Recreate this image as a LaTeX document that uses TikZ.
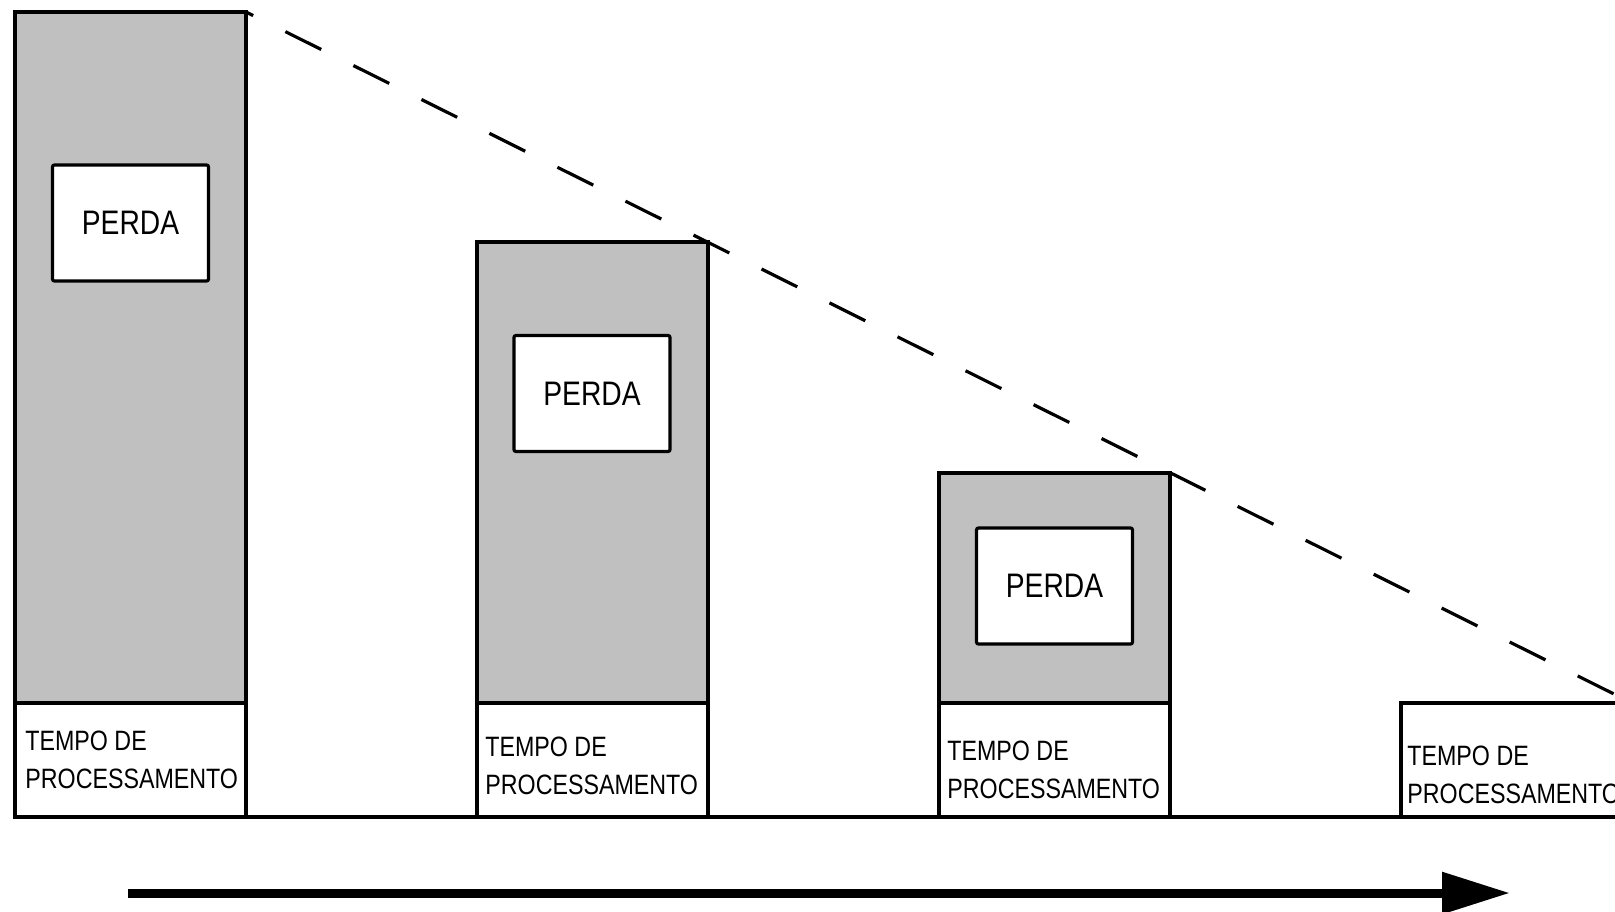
\documentclass[tikz,border=0pt]{standalone}
\usepackage{fontspec}
\setmainfont{Liberation Sans}
\newfontfamily\condfont[FakeStretch=0.83]{Liberation Sans}
\usetikzlibrary{arrows.meta}
\definecolor{bargray}{RGB}{192,192,192}
\begin{document}
\begin{tikzpicture}[x=0.5pt,y=-0.5pt,
  graybar/.style={draw, line width=1.6pt, fill=bargray, inner sep=0pt, outer sep=0pt, anchor=north west, minimum width=115.5pt},
  whitebar/.style={draw, line width=1.6pt, fill=white, inner sep=0pt, outer sep=0pt, anchor=north west, minimum width=115.5pt, minimum height=57pt},
  lossbox/.style={draw, line width=1.6pt, fill=white, rounded corners=1pt, minimum width=78pt, minimum height=58pt, inner sep=0pt, font=\condfont\fontsize{17}{20}\selectfont},
  timelabel/.style={anchor=west, align=left, inner sep=0pt, font=\condfont\fontsize{14}{19}\selectfont},
  dashline/.style={line width=1.6pt, dash pattern=on 20pt off 18pt, dash phase=16pt},
  baseline/.style={line width=1.6pt},
  timearrow/.style={line width=4.5pt, -{Triangle[length=34pt,width=20pt]}}
]
\useasboundingbox (0,0) rectangle (1615,911);
\clip (0,0) rectangle (1615,911);
% bars
\node[graybar, minimum height=345.5pt] (g1) at (15,12) {};
\node[graybar, minimum height=230.5pt] (g2) at (477,242) {};
\node[graybar, minimum height=115pt] (g3) at (939,473) {};
\node[whitebar] (w1) at (15,703) {};
\node[whitebar] (w2) at (477,703) {};
\node[whitebar] (w3) at (939,703) {};
\node[whitebar] (w4) at (1401,703) {};
% loss boxes
\node[lossbox] (p1) at (130.5,223) {PERDA};
\node[lossbox] (p2) at (592,393.5) {PERDA};
\node[lossbox] (p3) at (1054.5,586) {PERDA};
% labels
\node[timelabel] (t1) at ([xshift=5pt]w1.west) {TEMPO DE\\PROCESSAMENTO};
\node[timelabel] (t2) at ([xshift=4pt,yshift=-3pt]w2.west) {TEMPO DE\\PROCESSAMENTO};
\node[timelabel] (t3) at ([xshift=4pt,yshift=-5pt]w3.west) {TEMPO DE\\PROCESSAMENTO};
\node[timelabel] (t4) at ([xshift=3pt,yshift=-7.5pt]w4.west) {TEMPO DE\\PROCESSAMENTO};
% baseline
\draw[baseline] (w1.south east) -- (w2.south west);
\draw[baseline] (w2.south east) -- (w3.south west);
\draw[baseline] (w3.south east) -- (w4.south west);
% dashed envelope
\draw[dashline] (g1.north east) -- (w4.north east);
% time arrow
\coordinate (a0) at (128,893);
\coordinate (a1) at (1510,893);
\draw[timearrow] (a0) -- (a1);
\end{tikzpicture}
\end{document}
